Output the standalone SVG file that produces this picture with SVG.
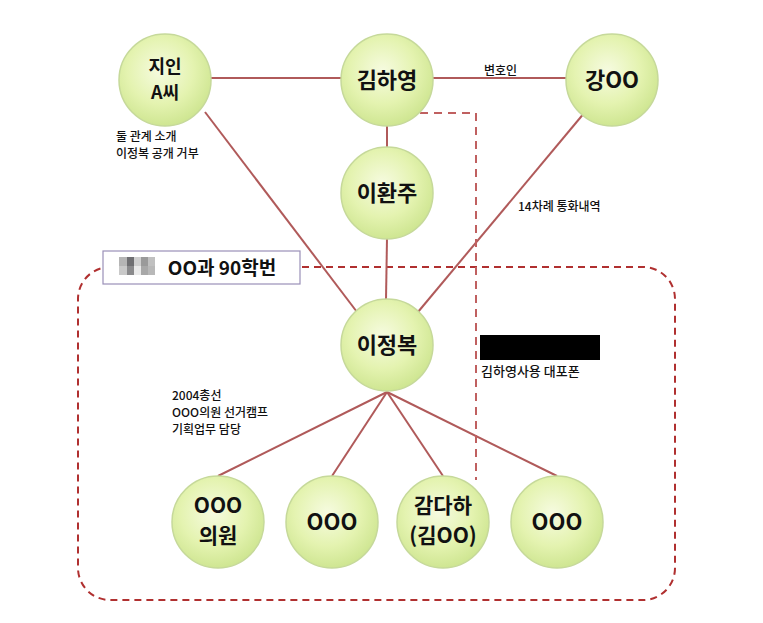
<svg xmlns="http://www.w3.org/2000/svg" width="763" height="623" viewBox="0 0 763 623">
<defs>
<radialGradient id="g" cx="0.45" cy="0.4" r="0.6">
<stop offset="0" stop-color="#f6fbe0"/><stop offset="0.6" stop-color="#e4f3b0"/><stop offset="1" stop-color="#cfe692"/>
</radialGradient>
<style>
.n{fill:url(#g);stroke:#c6d99a;stroke-width:1.5}
.t{font-family:"Noto Sans CJK KR","Liberation Sans",sans-serif;font-weight:bold;font-size:22px;fill:#111;text-anchor:middle}
.s{font-family:"Noto Sans CJK KR","Liberation Sans",sans-serif;font-size:12px;font-weight:500;fill:#111}
.l{stroke:#b05a5a;stroke-width:2;fill:none}
.d{stroke:#b03030;stroke-width:2;fill:none;stroke-dasharray:7,5}
</style>
</defs>
<rect width="763" height="623" fill="#fff"/>
<rect x="78" y="267" width="597" height="333" rx="32" class="d" stroke="#c00000"/>
<g id="connectors">
<line class="l" x1="210" y1="78" x2="342" y2="78"/>
<line class="l" x1="432" y1="78" x2="567" y2="78"/>
<line class="l" x1="387" y1="125" x2="387" y2="147"/>
<line class="l" x1="387" y1="238" x2="386" y2="300"/>
<line class="l" x1="205" y1="112" x2="357" y2="312"/>
<line class="l" x1="585" y1="112" x2="418" y2="312"/>
<line class="l" x1="387" y1="392" x2="218" y2="476"/>
<line class="l" x1="387" y1="392" x2="332" y2="476"/>
<line class="l" x1="387" y1="392" x2="443" y2="476"/>
<line class="l" x1="387" y1="392" x2="557" y2="476"/>
<polyline points="420,113 476,113 476,480" fill="none" stroke="#c06060" stroke-width="2" stroke-dasharray="8,6"/>
</g>
<g id="label-box">
<rect x="103" y="251" width="197" height="33" fill="#fff" stroke="#9a90b8" stroke-width="1.2"/>
<rect x="119" y="257" width="8" height="9" fill="#b5b5b5"/><rect x="127" y="257" width="7" height="9" fill="#6f6f72"/><rect x="134" y="257" width="7" height="9" fill="#cfcfcf"/><rect x="141" y="257" width="7" height="9" fill="#9a9a9a"/><rect x="148" y="257" width="7" height="9" fill="#c0c0c0"/>
<rect x="119" y="266" width="8" height="9" fill="#c9c9c9"/><rect x="127" y="266" width="7" height="9" fill="#8a8a8c"/><rect x="134" y="266" width="7" height="9" fill="#eaeaea"/><rect x="141" y="266" width="7" height="9" fill="#a8a8a8"/><rect x="148" y="266" width="7" height="9" fill="#b8b8b8"/>
<text x="222" y="275" class="t" style="font-size:19px">OO과 90학번</text>
</g>
<g id="n1"><circle class="n" cx="165" cy="80" r="46"/><text class="t" x="165" y="73" style="font-size:18px">지인</text><text class="t" x="165" y="99" style="font-size:18px">A씨</text></g>
<g id="n2"><circle class="n" cx="387" cy="80" r="46"/><text class="t" x="387" y="88">김하영</text></g>
<g id="n3"><circle class="n" cx="612" cy="80" r="46"/><text class="t" x="612" y="88">강OO</text></g>
<g id="n4"><circle class="n" cx="387" cy="193" r="46"/><text class="t" x="387" y="201">이환주</text></g>
<g id="n5"><circle class="n" cx="387" cy="345" r="46"/><text class="t" x="387" y="353">이정복</text></g>
<g id="n6"><circle class="n" cx="218" cy="522" r="46"/><text class="t" x="218" y="513" style="font-size:21px">OOO</text><text class="t" x="218" y="543" style="font-size:21px">의원</text></g>
<g id="n7"><circle class="n" cx="332" cy="522" r="46"/><text class="t" x="332" y="530">OOO</text></g>
<g id="n8"><circle class="n" cx="443" cy="522" r="46"/><text class="t" x="443" y="513" style="font-size:21px">감다하</text><text class="t" x="443" y="543" style="font-size:21px">(김OO)</text></g>
<g id="n9"><circle class="n" cx="557" cy="522" r="46"/><text class="t" x="557" y="530">OOO</text></g>
<g id="labels">
<text class="s" x="484" y="75">변호인</text>
<text class="s" x="116" y="141">둘 관계 소개</text>
<text class="s" x="116" y="158">이정복 공개 거부</text>
<text class="s" x="518" y="211">14차례 통화내역</text>
<rect x="480" y="335" width="120" height="25" fill="#000"/>
<text class="s" x="481" y="376" style="font-size:13px">김하영사용 대포폰</text>
<text class="s" x="172" y="400">2004총선</text>
<text class="s" x="172" y="417">OOO의원 선거캠프</text>
<text class="s" x="172" y="434">기획업무 담당</text>
</g>
</svg>
